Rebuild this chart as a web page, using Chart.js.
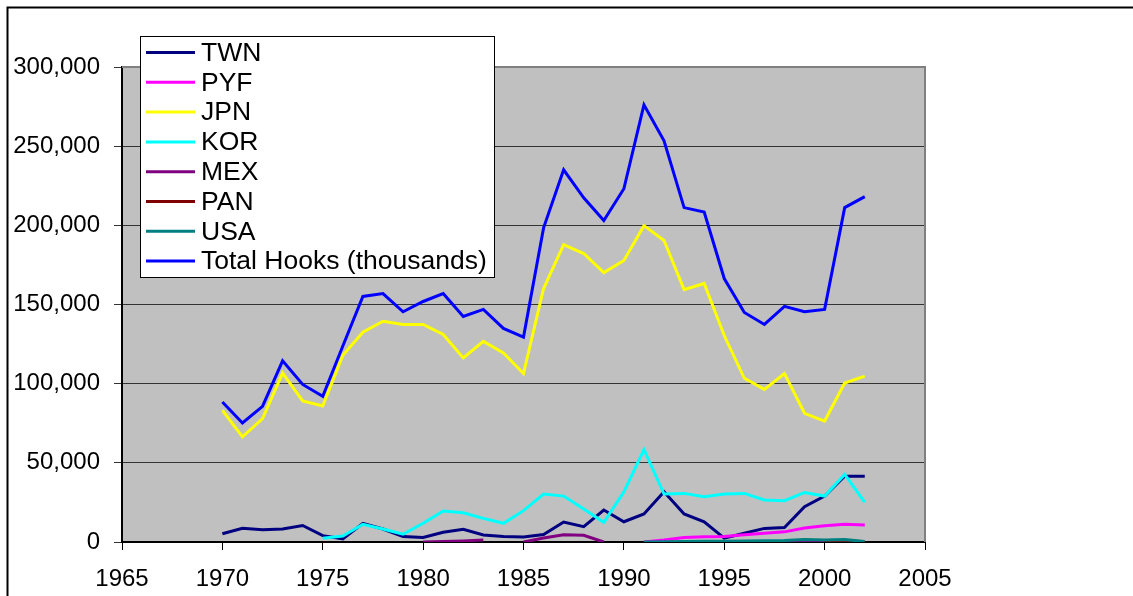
<!DOCTYPE html>
<html>
<head>
<meta charset="utf-8">
<script src="https://cdn.jsdelivr.net/npm/chart.js@4/dist/chart.umd.min.js"></script>
<style>
  html, body { margin: 0; padding: 0; background: #fff; }
  #wrap { width: 1133px; height: 596px; position: relative; }
</style>
</head>
<body>
<div id="wrap"><canvas id="c" width="1133" height="596"></canvas></div>
<script>
const years = [1970,1971,1972,1973,1974,1975,1976,1977,1978,1979,1980,1981,1982,1983,1984,1985,1986,1987,1988,1989,1990,1991,1992,1993,1994,1995,1996,1997,1998,1999,2000,2001,2002];

const TWN = [5200,8700,7800,8200,10400,4000,2000,11800,8200,3400,2800,6100,8000,4400,3400,3200,4700,12600,9700,20200,12800,17700,31700,17700,12800,2400,5500,8600,9100,22300,29000,41600,41600];
const PYF = [null,null,null,null,null,null,null,null,null,null,null,null,null,null,null,null,null,null,null,null,null,0,1200,2800,3300,3500,4600,5600,6400,8800,10300,11200,10800];
const JPN = [83200,66400,78000,106700,89100,85900,117900,132500,139400,137400,137400,131100,116200,126700,119400,106400,160100,187800,182200,170200,177800,199800,190400,159400,163300,130400,103400,96400,106400,81300,76400,100400,104800];
const KOR = [null,null,null,null,null,2400,3800,11200,8200,4900,11800,19600,18500,14900,11800,19800,30300,29000,20800,12400,31700,58400,30300,30700,28600,30300,30700,26500,26100,31300,29000,42700,25000];
const MEX = [null,null,null,null,null,null,null,null,null,null,0,300,700,1300,null,0,2500,4600,4200,0,null,null,null,null,null,null,null,null,200,300,200,null,null];
const PAN = [null,null,null,null,null,null,null,null,null,null,null,null,null,null,null,null,null,null,null,null,null,null,null,null,null,null,null,null,null,null,300,300,0];
const USA = [null,null,null,null,null,null,null,null,null,null,null,null,null,null,null,null,null,null,null,null,null,0,200,300,500,500,600,800,1000,1500,1200,1500,300];
const TOTAL = [88400,75200,85700,114400,99500,92000,123800,155100,156900,145400,151900,156900,142400,146900,134900,129400,198400,235100,217400,203000,223100,276100,253400,211200,208400,166400,145000,137400,148800,145400,146900,211200,218100];

const xTicks = [1965,1970,1975,1980,1985,1990,1995,2000,2005];
const yTicks = [0,50000,100000,150000,200000,250000,300000];

const seriesNames = ['TWN','PYF','JPN','KOR','MEX','PAN','USA','Total Hooks (thousands)'];
const seriesValues = [TWN,PYF,JPN,KOR,MEX,PAN,USA,TOTAL];
const seriesColors = ['#000080','#FF00FF','#FFFF00','#00FFFF','#800080','#800000','#008080','#0000FF'];

const datasets = seriesNames.map((name, i) => ({
  label: name,
  data: years.map((yr, k) => ({ x: yr, y: seriesValues[i][k] })),
  borderColor: seriesColors[i],
  backgroundColor: seriesColors[i],
  borderWidth: 3,
  pointRadius: 0,
  tension: 0,
  spanGaps: false,
  order: seriesNames.length - i
}));

const FONT = '"Liberation Sans", Arial, sans-serif';

const framePlugin = {
  id: 'frame',
  beforeDraw(chart) {
    const ctx = chart.ctx, a = chart.chartArea;
    ctx.save();
    ctx.fillStyle = '#fff';
    ctx.fillRect(0, 0, chart.width, chart.height);
    ctx.strokeStyle = '#000';
    ctx.lineWidth = 2;
    ctx.beginPath();
    ctx.moveTo(7.5, 596); ctx.lineTo(7.5, 7.5); ctx.lineTo(1133, 7.5);
    ctx.stroke();
    ctx.fillStyle = '#C0C0C0';
    ctx.fillRect(a.left, a.top, a.right - a.left, a.bottom - a.top);
    ctx.restore();
  },
  afterDatasetsDraw(chart) {
    const ctx = chart.ctx, a = chart.chartArea;
    ctx.save();
    ctx.strokeStyle = '#808080';
    ctx.lineWidth = 2;
    ctx.beginPath();
    ctx.moveTo(a.left, a.top); ctx.lineTo(a.right, a.top); ctx.lineTo(a.right, a.bottom);
    ctx.stroke();
    ctx.restore();
  },
  afterDraw(chart) {
    const ctx = chart.ctx;
    ctx.save();
    const bx = 140.5, by = 36.5, bw = 354, bh = 241;
    ctx.fillStyle = '#fff';
    ctx.fillRect(bx, by, bw, bh);
    ctx.strokeStyle = '#000';
    ctx.lineWidth = 1;
    ctx.strokeRect(bx, by, bw, bh);
    ctx.font = '26.5px ' + FONT;
    ctx.textBaseline = 'middle';
    ctx.textAlign = 'left';
    seriesNames.forEach((n, i) => {
      const y = 52.5 + i * 29.8;
      ctx.strokeStyle = seriesColors[i];
      ctx.lineWidth = 3;
      ctx.beginPath();
      ctx.moveTo(146, y); ctx.lineTo(195, y);
      ctx.stroke();
      ctx.fillStyle = '#000';
      ctx.fillText(n, 201, y + 1);
    });
    ctx.restore();
  }
};

new Chart(document.getElementById('c'), {
  type: 'line',
  data: { datasets },
  plugins: [framePlugin],
  options: {
    responsive: false,
    animation: false,
    devicePixelRatio: 1,
    layout: { padding: { top: 67, right: 208, bottom: 0, left: 0 } },
    plugins: { legend: { display: false }, tooltip: { enabled: false } },
    scales: {
      x: {
        type: 'linear',
        min: 1965, max: 2005,
        afterBuildTicks(s) { s.ticks = xTicks.map(v => ({ value: v })); },
        afterFit(s) { s.height = 54; },
        ticks: { color: '#000', font: { family: FONT, size: 24 }, padding: 15, maxRotation: 0, autoSkip: false,
          callback: v => String(v) },
        grid: { display: true, drawOnChartArea: false, drawTicks: true, tickLength: 8, color: '#000' },
        border: { color: '#000', width: 2 }
      },
      y: {
        min: 0, max: 300000,
        afterBuildTicks(s) { s.ticks = yTicks.map(v => ({ value: v })); },
        afterFit(s) { s.width = 122; },
        ticks: { color: '#000', font: { family: FONT, size: 24 }, padding: 14,
          callback: v => v.toLocaleString('en-US') },
        grid: { color: '#333', lineWidth: 1, tickLength: 8, drawTicks: true },
        border: { color: '#000', width: 2 }
      }
    }
  }
});
</script>
</body>
</html>
